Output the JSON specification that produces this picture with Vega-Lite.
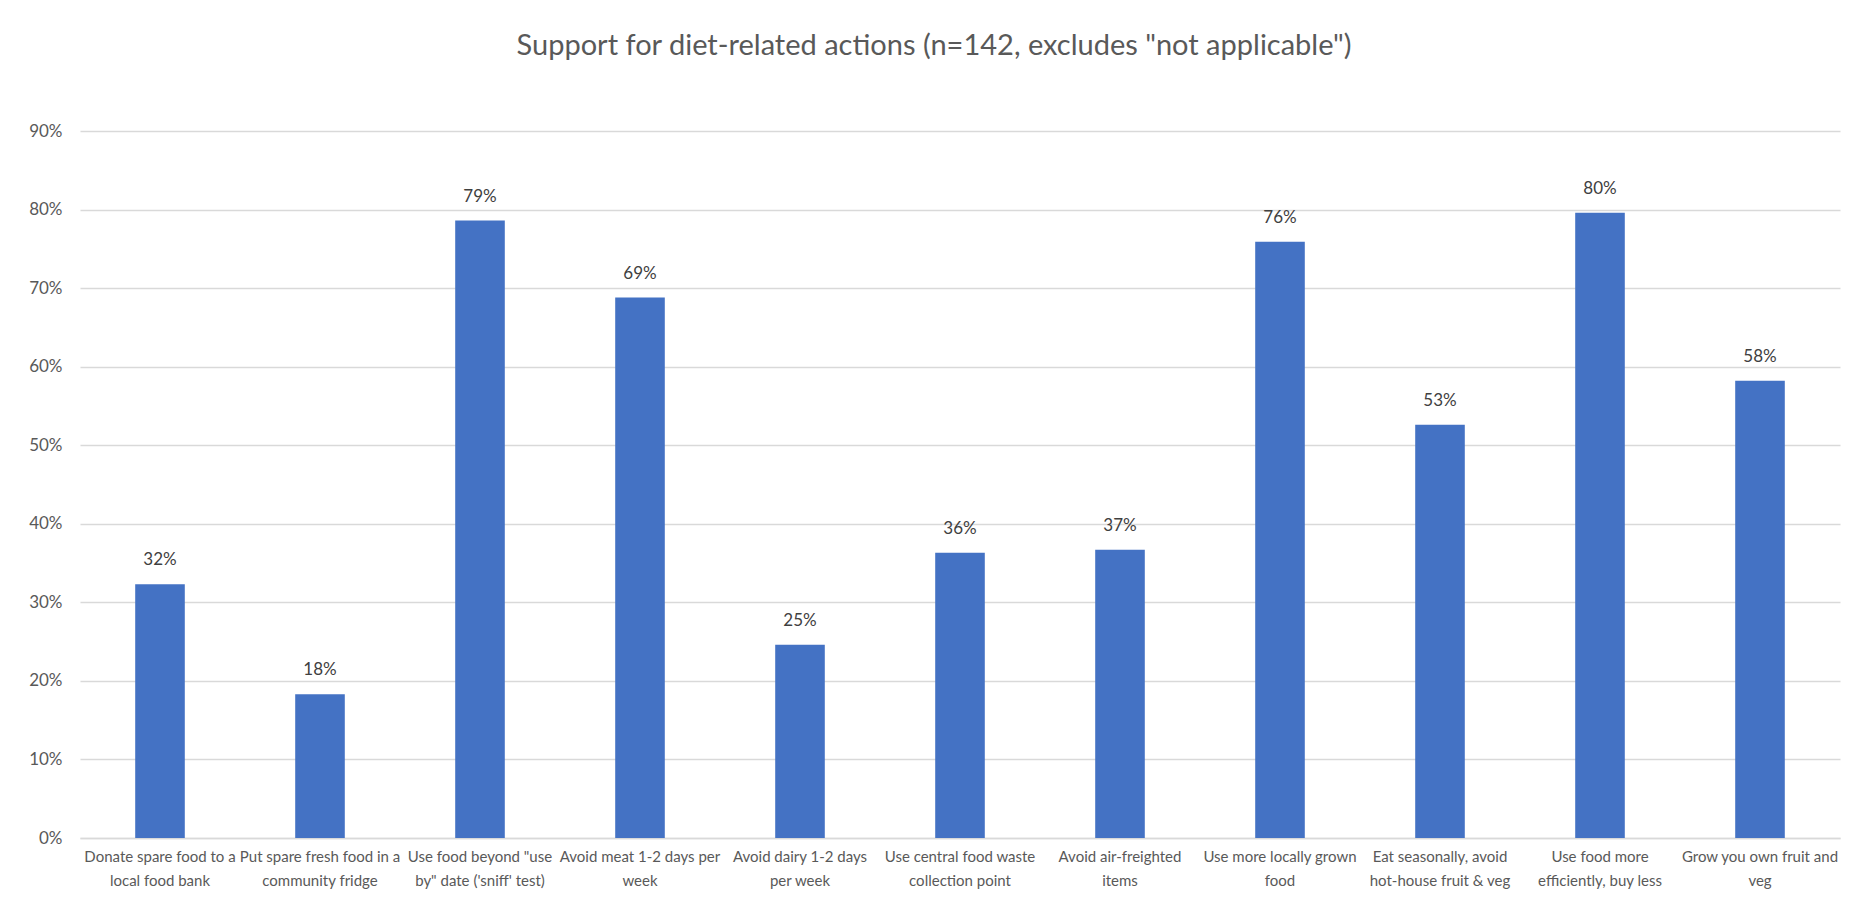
{
  "$schema": "https://vega.github.io/schema/vega-lite/v6.json",
  "width": 1760,
  "height": 707,
  "autosize": {"type": "none"},
  "padding": {"left": 80, "top": 131, "right": 26, "bottom": 61},
  "background": "white",
  "title": {
    "text": "Support for diet-related actions (n=142, excludes \"not applicable\")",
    "font": "Lato",
    "fontSize": 29,
    "fontWeight": "normal",
    "color": "#595959",
    "anchor": "middle",
    "dx": -26,
    "offset": 61
  },
  "data": {
    "values": [
      {"label": "Donate spare food to a|local food bank", "value": 0.323},
      {"label": "Put spare fresh food in a|community fridge", "value": 0.183},
      {"label": "Use food beyond \"use|by\" date ('sniff' test)", "value": 0.786},
      {"label": "Avoid meat 1-2 days per|week", "value": 0.688},
      {"label": "Avoid dairy 1-2 days|per week", "value": 0.246},
      {"label": "Use central food waste|collection point", "value": 0.363},
      {"label": "Avoid air-freighted|items", "value": 0.367},
      {"label": "Use more locally grown|food", "value": 0.759},
      {"label": "Eat seasonally, avoid|hot-house fruit & veg", "value": 0.526},
      {"label": "Use food more|efficiently, buy less", "value": 0.796},
      {"label": "Grow you own fruit and|veg", "value": 0.582}
    ]
  },
  "encoding": {
    "x": {
      "field": "label",
      "type": "nominal",
      "sort": null,
      "scale": {"paddingInner": 0.69, "paddingOuter": 0.345},
      "axis": {
        "title": null,
        "labelAngle": 0,
        "labelExpr": "split(datum.label, '|')",
        "labelFont": "Lato",
        "labelFontSize": 15,
        "labelColor": "#595959",
        "labelLineHeight": 24,
        "labelLimit": 300,
        "labelPadding": 11,
        "labelBaseline": "top",
        "ticks": false,
        "domainColor": "#d9d9d9",
        "domainWidth": 1.5
      }
    },
    "y": {
      "field": "value",
      "type": "quantitative",
      "scale": {"domain": [0, 0.9], "nice": false},
      "axis": {
        "title": null,
        "format": ".0%",
        "values": [0, 0.1, 0.2, 0.3, 0.4, 0.5, 0.6, 0.7, 0.8, 0.9],
        "labelFont": "Lato",
        "labelFontSize": 17,
        "labelColor": "#595959",
        "labelPadding": 18,
        "ticks": false,
        "domain": false,
        "gridColor": "#d9d9d9",
        "gridWidth": 1.5
      }
    }
  },
  "layer": [
    {"mark": {"type": "bar", "color": "#4472C4"}},
    {
      "mark": {"type": "text", "font": "Lato", "fontSize": 17, "color": "#404040", "baseline": "middle", "dy": -24},
      "encoding": {"text": {"field": "value", "type": "quantitative", "format": ".0%"}}
    }
  ],
  "config": {"view": {"stroke": null}}
}
